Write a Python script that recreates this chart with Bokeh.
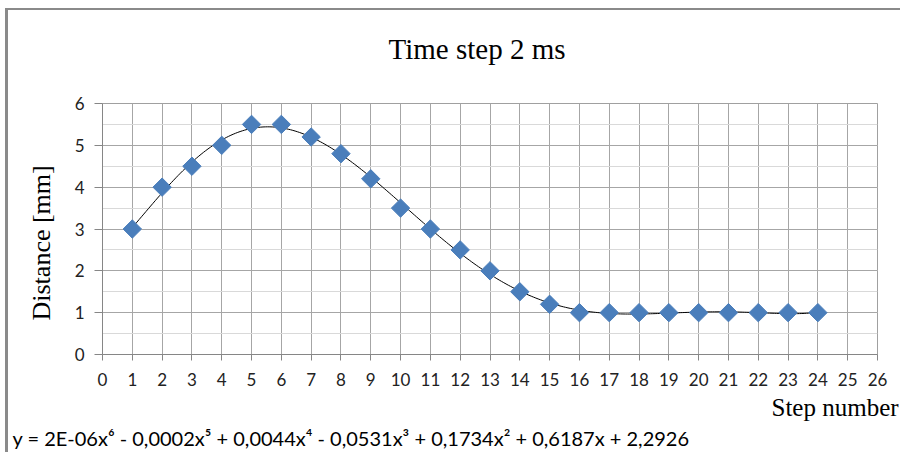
import numpy as np
from bokeh.plotting import figure
from bokeh.models import Title, FixedTicker, SingleIntervalTicker
from bokeh.embed import file_html
from bokeh.resources import INLINE

# ---- data ----
steps = [1, 2, 3, 4, 5, 6, 7, 8, 9, 10, 11, 12, 13, 14, 15, 16, 17, 18, 19, 20, 21, 22, 23, 24]
distance = [3.0, 4.0, 4.5, 5.0, 5.5, 5.5, 5.2, 4.8, 4.2, 3.5, 3.0, 2.5, 2.0, 1.5, 1.2, 1.0,
            1.0, 1.0, 1.0, 1.0, 1.0, 1.0, 1.0, 1.0]
x_ticks = list(range(0, 27))
title_text = "Time step 2 ms"
y_label = "Distance [mm]"
x_label = "Step number"
equation = "y = 2E-06x\u2076 - 0,0002x\u2075 + 0,0044x\u2074 - 0,0531x\u00b3 + 0,1734x\u00b2 + 0,6187x + 2,2926"

# polynomial (order 6) trendline fitted to the data, as in the original chart
coef = np.polyfit(steps, distance, 6)
xs = np.linspace(min(steps), max(steps), 300)
ys = np.polyval(coef, xs)

W, H = 895, 444
p = figure(width=W, height=H, output_backend="svg", toolbar_location=None,
           x_range=(0, 26), y_range=(0, 6),
           min_border_left=94, min_border_right=26, min_border_top=93, min_border_bottom=100)
p.styles = {"border-left": "3px solid #8a8a8a", "border-top": "2px solid #8a8a8a",
            "margin-left": "5px", "margin-top": "8px"}
p.title.visible = False
p.outline_line_color = "#a0a0a0"
p.background_fill_color = "white"
p.border_fill_color = "white"

p.line(xs, ys, line_color="black", line_width=1)
p.scatter(steps, distance, marker="square", angle=np.pi / 4, size=13,
          fill_color="#4a7ebb", line_color="#4a7ebb")

p.xaxis.ticker = FixedTicker(ticks=x_ticks)
p.yaxis.ticker = SingleIntervalTicker(interval=1, num_minor_ticks=2)
p.xgrid.ticker = FixedTicker(ticks=x_ticks)

for ax in (p.xaxis, p.yaxis):
    ax.axis_line_color = "#868686"
    ax.major_tick_line_color = "#868686"
    ax.minor_tick_line_color = None
    ax.major_tick_in = 0
    ax.major_label_text_font = "Lato"
    ax.major_label_text_font_size = "17px"
    ax.major_label_text_color = "#222222"
p.xaxis.major_tick_out = 6
p.xaxis.major_label_standoff = 12
p.yaxis.major_tick_out = 8
p.yaxis.major_label_standoff = 10

p.xgrid.grid_line_color = "#a6a6a6"
p.ygrid.grid_line_color = "#a6a6a6"
p.ygrid.minor_grid_line_color = "#d9d9d9"

# blank spacer between the frame and the chart title
p.add_layout(Title(text=" ", standoff=10, text_font_size="20px", text_color="white"), "above")
p.add_layout(Title(text=title_text, align="left", offset=286, standoff=10,
                   text_font="Liberation Serif", text_font_size="29px",
                   text_font_style="normal", text_color="black"), "above")
p.add_layout(Title(text=y_label, align="left", offset=34, standoff=32,
                   text_font="Liberation Serif", text_font_size="26px",
                   text_font_style="normal", text_color="black"), "left")
p.add_layout(Title(text=x_label, align="left", offset=669, standoff=6,
                   text_font="Liberation Serif", text_font_size="25px",
                   text_font_style="normal", text_color="black"), "below")
p.add_layout(Title(text=equation, align="left", offset=-90, standoff=0,
                   text_font="Lato", text_font_size="20px",
                   text_font_style="normal", text_color="black"), "below")

open("out.html", "w").write(file_html(p, INLINE))
